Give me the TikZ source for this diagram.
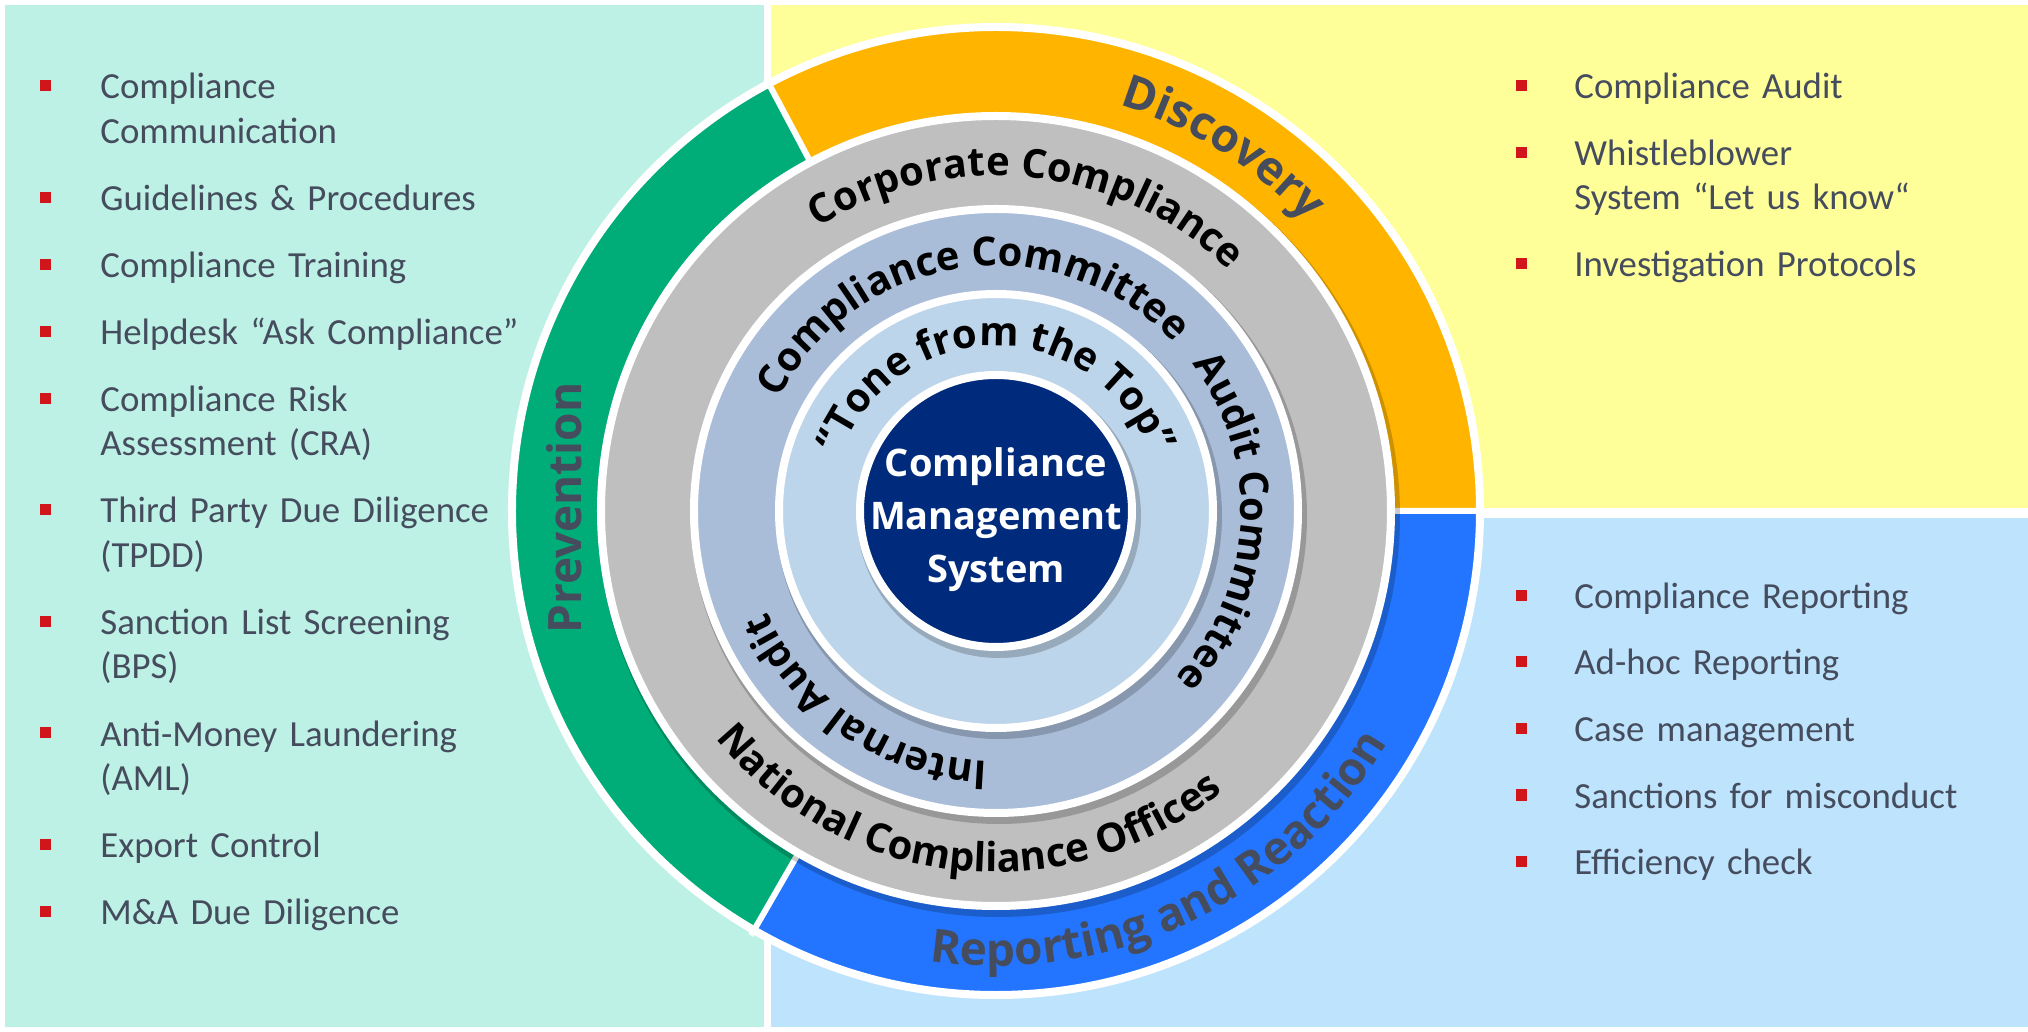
\documentclass[tikz,border=0pt]{standalone}
\usepackage{fontspec}
\setmainfont{Carlito}
\newfontfamily\ringschrift{Open Sans}
\usetikzlibrary{decorations.text}

\definecolor{mint}{HTML}{BEF1E5}
\definecolor{gelbfeld}{HTML}{FFFF99}
\definecolor{blaufeld}{HTML}{BEE3FC}
\definecolor{gruenring}{HTML}{00AD78}
\definecolor{orangering}{HTML}{FFB400}
\definecolor{blauring}{HTML}{2375FF}
\definecolor{grauring}{HTML}{BFBFBF}
\definecolor{stahlring}{HTML}{A9BDD9}
\definecolor{hellring}{HTML}{BDD5EA}
\definecolor{kernblau}{HTML}{002A7B}
\definecolor{schiefer}{HTML}{454C5D}
\definecolor{punktrot}{HTML}{D0161B}

\newcommand{\grossring}{\ringschrift\bfseries\fontsize{23}{28}\selectfont}
\newcommand{\kleinring}{\ringschrift\bfseries\fontsize{20}{24}\selectfont}

\tikzset{
  eintrag/.style={anchor=base west, text width=250pt, align=left, inner sep=0pt,
    text=schiefer, font=\fontsize{18.4}{22.25}\selectfont},
  marke/.style={fill=punktrot, minimum size=5.5pt, inner sep=0pt},
  scheibe/.style={draw=white, line width=4pt},
  schatten/.style={black, opacity=.2},
  trenn/.style={white, line width=3pt}
}

\begin{document}
\begin{tikzpicture}[x=0.5pt, y=0.5pt]

% Hintergrund
\fill[white] (-996,-521) rectangle (1032,511);
\useasboundingbox (-996,-521) rectangle (1032,511);
\fill[mint] (-991,-516) rectangle (-232,506);
\fill[gelbfeld] (-225,3) rectangle (1032,506);
\fill[blaufeld] (-225,-516) rectangle (1032,-7);

\coordinate (M) at (0,0);

% Aeusserer Ring
\fill[orangering] (M) -- (0:484) arc[start angle=0, end angle=118, radius=484] -- cycle;
\fill[gruenring] (M) -- (118:484) arc[start angle=118, end angle=240, radius=484] -- cycle;
\fill[blauring] (M) -- (240:484) arc[start angle=240, end angle=360, radius=484] -- cycle;
\draw[trenn] (M) -- (0:490) (M) -- (118:490) (M) -- (240:490);
\draw[scheibe] (M) circle[radius=484];

% Innere Scheiben
\fill[schatten] (3,-5) circle[radius=401];
\filldraw[scheibe, fill=grauring] (M) circle[radius=395];
\fill[schatten] (3,-5) circle[radius=308];
\filldraw[scheibe, fill=stahlring] (M) circle[radius=302];
\fill[schatten] (3,-5) circle[radius=223];
\filldraw[scheibe, fill=hellring] (M) circle[radius=217];
\fill[schatten] (3,-5) circle[radius=142];
\filldraw[scheibe, fill=kernblau] (M) circle[radius=136];

% Ringbeschriftungen
\path[decorate, decoration={text along path, text align=center, text color=schiefer,
  text={|\grossring|Discovery}}] (128:424) arc[start angle=128, end angle=-12, radius=424];
\path[decorate, decoration={text along path, text align=center, text color=schiefer,
  text={|\grossring|Reporting and Reaction}}] (215:455) arc[start angle=215, end angle=376, radius=455];
\node[rotate=90, text=schiefer, font=\grossring, inner sep=0pt] (prev) at (-432,3) {Prevention};

\path[decorate, decoration={text along path, text align=center,
  text={|\kleinring|Corporate Compliance}}] (164:335) arc[start angle=164, end angle=4, radius=335];
\path[decorate, decoration={text along path, text align=center,
  text={|\kleinring|National Compliance Offices}}] (184:361) arc[start angle=184, end angle=344, radius=361];
\path[decorate, decoration={text along path, text align=center,
  text={|\kleinring|Compliance Committee}}] (183:245) arc[start angle=183, end angle=13, radius=245];
\path[decorate, decoration={text along path, text align=center,
  text={|\kleinring|Audit Committee}}] (67:245) arc[start angle=67, end angle=-73, radius=245];
\path[decorate, decoration={text along path, text align=center,
  text={|\kleinring|Internal Audit}}] (296:250) arc[start angle=296, end angle=176, radius=250];
\path[decorate, decoration={text along path, text align=center,
  text={|\kleinring|“Tone from the Top”}}] (175:165) arc[start angle=175, end angle=5, radius=165];

\node[text=white, align=center, inner sep=0pt,
  font=\ringschrift\bfseries\fontsize{19}{26.5}\selectfont] (cms) at (0,-9)
  {Compliance\\Management\\System};

% Praevention
\node[marke] (lm1) at (-950,425) {};    \node[eintrag] (l1) at (-896,412) {Compliance\\Communication};
\node[marke] (lm2) at (-950,313.5) {};  \node[eintrag] (l2) at (-896,300.5) {Guidelines \& Procedures};
\node[marke] (lm3) at (-950,246.5) {};  \node[eintrag] (l3) at (-896,233.5) {Compliance Training};
\node[marke] (lm4) at (-950,179.5) {};  \node[eintrag] (l4) at (-896,166.5) {Helpdesk “Ask Compliance”};
\node[marke] (lm5) at (-950,112.5) {};  \node[eintrag] (l5) at (-896,99.5) {Compliance Risk\\Assessment (CRA)};
\node[marke] (lm6) at (-950,1) {};      \node[eintrag] (l6) at (-896,-12) {Third Party Due Diligence\\(TPDD)};
\node[marke] (lm7) at (-950,-110.5) {}; \node[eintrag] (l7) at (-896,-123.5) {Sanction List Screening\\(BPS)};
\node[marke] (lm8) at (-950,-222) {};   \node[eintrag] (l8) at (-896,-235) {Anti-Money Laundering\\(AML)};
\node[marke] (lm9) at (-950,-333.5) {}; \node[eintrag] (l9) at (-896,-346.5) {Export Control};
\node[marke] (lm10) at (-950,-400.5) {};\node[eintrag] (l10) at (-896,-413.5) {M\&A Due Diligence};

% Aufdeckung
\node[marke] (rm1) at (525,425.5) {};   \node[eintrag] (r1) at (578,412.5) {Compliance Audit};
\node[marke] (rm2) at (525,358.5) {};   \node[eintrag] (r2) at (578,345.5) {Whistleblower\\System “Let us know“};
\node[marke] (rm3) at (525,247) {};     \node[eintrag] (r3) at (578,234) {Investigation Protocols};

% Reaktion
\node[marke] (bm1) at (525,-85) {};     \node[eintrag] (b1) at (578,-98) {Compliance Reporting};
\node[marke] (bm2) at (525,-151) {};    \node[eintrag] (b2) at (578,-164) {Ad-hoc Reporting};
\node[marke] (bm3) at (525,-218) {};    \node[eintrag] (b3) at (578,-231) {Case management};
\node[marke] (bm4) at (525,-284) {};    \node[eintrag] (b4) at (578,-297) {Sanctions for misconduct};
\node[marke] (bm5) at (525,-350) {};    \node[eintrag] (b5) at (578,-363) {Efficiency check};

\end{tikzpicture}
\end{document}
